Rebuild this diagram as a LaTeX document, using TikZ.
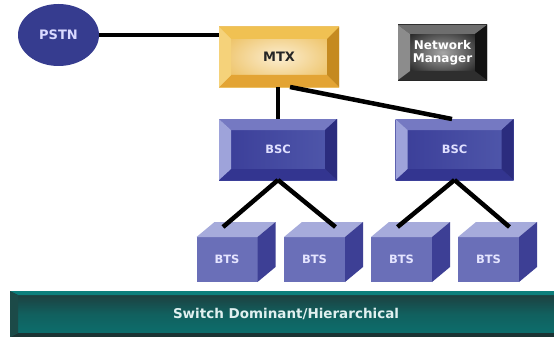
\documentclass[tikz,border=0pt]{standalone}
\usepackage{fontspec}
\setsansfont{DejaVu Sans}
\usetikzlibrary{calc,shapes.geometric}
\definecolor{pstnblue}{HTML}{363C8F}
\definecolor{mtxface}{HTML}{EEC46A}
\definecolor{mtxlight}{HTML}{FBEDD0}
\definecolor{mtxtop}{HTML}{F0C152}
\definecolor{mtxleft}{HTML}{F5D27A}
\definecolor{mtxright}{HTML}{C58A20}
\definecolor{mtxbottom}{HTML}{E3A434}
\definecolor{bscface}{HTML}{3A3D98}
\definecolor{bsclight}{HTML}{5058AB}
\definecolor{bsctop}{HTML}{7579C2}
\definecolor{bscleft}{HTML}{9EA3DA}
\definecolor{bscright}{HTML}{2B2C7E}
\definecolor{bscbottom}{HTML}{333590}
\definecolor{btsfront}{HTML}{6A6FB8}
\definecolor{btstop}{HTML}{A6ABDB}
\definecolor{btsside}{HTML}{3D3F95}
\definecolor{barteal}{HTML}{0B706E}
\definecolor{bardark}{HTML}{1F3A3A}
\definecolor{bartop}{HTML}{0D7F7C}
\definecolor{barleft}{HTML}{1C4A48}
\definecolor{barbottom}{HTML}{1B3434}
\tikzset{every picture/.style={/utils/exec={\sffamily\bfseries}}}
\tikzstyle{line}=[line width=4.5pt, black]
\tikzset{
  bevel/.style n args={6}{% top, left, right, bottom, x width, y width
    path picture={
      \fill[#1] (path picture bounding box.north west) -- (path picture bounding box.north east)
        -- ([xshift=-#5,yshift=-#6]path picture bounding box.north east)
        -- ([xshift=#5,yshift=-#6]path picture bounding box.north west) -- cycle;
      \fill[#4] (path picture bounding box.south west) -- (path picture bounding box.south east)
        -- ([xshift=-#5,yshift=#6]path picture bounding box.south east)
        -- ([xshift=#5,yshift=#6]path picture bounding box.south west) -- cycle;
      \fill[#2] (path picture bounding box.north west) -- ([xshift=#5,yshift=-#6]path picture bounding box.north west)
        -- ([xshift=#5,yshift=#6]path picture bounding box.south west)
        -- (path picture bounding box.south west) -- cycle;
      \fill[#3] (path picture bounding box.north east) -- ([xshift=-#5,yshift=-#6]path picture bounding box.north east)
        -- ([xshift=-#5,yshift=#6]path picture bounding box.south east)
        -- (path picture bounding box.south east) -- cycle;
    }
  },
  box/.style={rectangle, inner sep=0pt, outer sep=0pt, font=\fontsize{11.5}{13}\selectfont},
  mtxbox/.style={box, minimum width=120pt, minimum height=60pt,
    inner color=mtxlight, outer color=mtxface, text=black!85,
    font=\fontsize{13}{15}\selectfont,
    bevel={mtxtop}{mtxleft}{mtxright}{mtxbottom}{12pt}{12pt}},
  bscbox/.style={box, minimum width=118pt, minimum height=61pt,
    left color=bscface, right color=bsclight, text=white!88!blue,
    bevel={bsctop}{bscleft}{bscright}{bscbottom}{12pt}{11pt}},
  nmbox/.style={box, minimum width=89pt, minimum height=55pt, align=center,
    inner color=black!35, outer color=black!85, text=white,
    font=\fontsize{12}{12.5}\selectfont,
    bevel={black!57}{black!45}{black!93}{black!82}{12pt}{9pt}},
  btsface/.style={box, minimum width=61pt, minimum height=45pt,
    fill=btsfront, text=white!90!blue},
  pstn/.style={ellipse, inner sep=0pt, minimum width=81pt, minimum height=62pt,
    fill=pstnblue, text=white!85!blue, font=\fontsize{13}{15}\selectfont},
  barbox/.style={box, minimum width=552pt, minimum height=46pt,
    top color=bardark, bottom color=barteal, middle color=barteal!70!bardark,
    text=white!88!teal, font=\fontsize{13.5}{15}\selectfont,
    bevel={bartop}{barleft}{barteal}{barbottom}{8pt}{4pt}},
}
\begin{document}
\begin{tikzpicture}[x=1pt,y=-1pt]
  \useasboundingbox (0,0) rectangle (554,337);
  \clip (0,0) rectangle (554,337);
  \fill[white] (0,0) rectangle (554,337);
  % core network
  \node[pstn] (PSTN) at (58.5,35) {PSTN};
  \node[mtxbox] (MTX) at (279,57) {MTX};
  \node[nmbox] (NM) at (442.5,52.5) {Network\\Manager};
  % controllers
  \node[bscbox] (BSC-A) at (278,149.5) {BSC};
  \node[bscbox] (BSC-B) at (454.5,149.5) {BSC};
  % base stations
  \foreach \x [count=\i] in {227,314.5,401.5,488.5} {
    \node[btsface] (BTS\i) at (\x,259.5) {BTS};
    \fill[btstop] (BTS\i.north west) -- ++(18,-15) -- ++(61,0) -- (BTS\i.north east) -- cycle;
    \fill[btsside] (BTS\i.north east) -- ++(18,-15) -- ++(0,45) -- (BTS\i.south east) -- cycle;
  }
  \node[barbox] (Bar) at (286,314) {Switch Dominant/Hierarchical};
  % links
  \draw[line] (PSTN.east) -- (PSTN.east -| MTX.west);
  \draw[line] (BSC-A.north |- MTX.south) -- (BSC-A.north);
  \draw[line] ([xshift=11pt]MTX.south) -- ([xshift=-2.5pt]BSC-B.north);
  \draw[line] (BSC-A.south) -- ([xshift=-4pt,yshift=10pt]BTS1.north);
  \draw[line] (BSC-A.south) -- ([xshift=21pt,yshift=10pt]BTS2.north);
  \draw[line] (BSC-B.south) -- ([xshift=-4pt,yshift=10pt]BTS3.north);
  \draw[line] (BSC-B.south) -- ([xshift=21pt,yshift=10pt]BTS4.north);
\end{tikzpicture}
\end{document}
